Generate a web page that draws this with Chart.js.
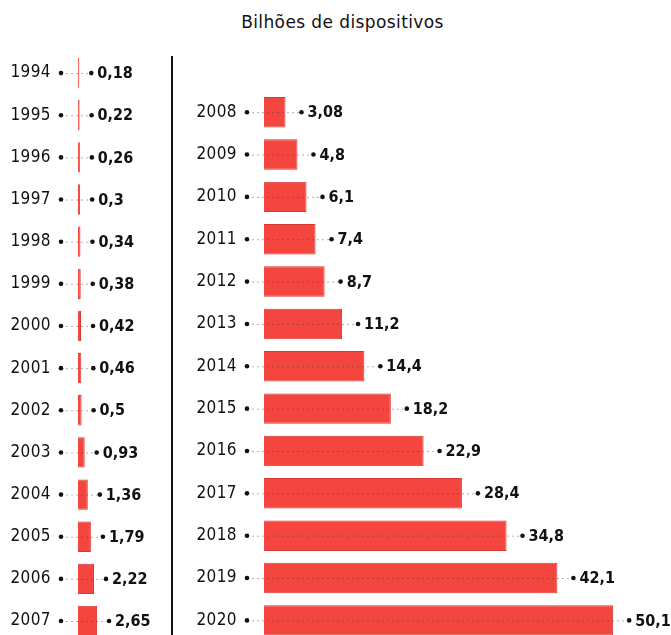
<!DOCTYPE html>
<html lang="pt">
<head>
<meta charset="utf-8">
<script src="https://cdn.jsdelivr.net/npm/chart.js@4/dist/chart.umd.min.js"></script>
<style>
  html, body { margin: 0; padding: 0; background: #fff; overflow: hidden; }
  body { position: relative; width: 671px; height: 635px; }
  #title { position: absolute; left: 0; top: 12px; width: 685px; text-align: center; letter-spacing: 0.4px;
           font: 17px "DejaVu Sans", Roboto, sans-serif; color: #111; }
  #sep { position: absolute; left: 171px; top: 56px; width: 2px; height: 590px; background: #111; }
  canvas { position: absolute; top: 0; }
  #leftChart { left: 0; }
  #rightChart { left: 174px; }
</style>
</head>
<body>
<div id="title">Bilhões de dispositivos</div>
<div id="sep"></div>
<canvas id="leftChart" width="172" height="650"></canvas>
<canvas id="rightChart" width="497" height="650"></canvas>
<script>
// anos e valores (bilhões de dispositivos)
var yearsA = ['1994', '1995', '1996', '1997', '1998', '1999', '2000', '2001', '2002', '2003', '2004', '2005', '2006', '2007'];
var valuesA = [0.18, 0.22, 0.26, 0.3, 0.34, 0.38, 0.42, 0.46, 0.5, 0.93, 1.36, 1.79, 2.22, 2.65];
var yearsB = ['2008', '2009', '2010', '2011', '2012', '2013', '2014', '2015', '2016', '2017', '2018', '2019', '2020'];
var valuesB = [3.08, 4.8, 6.1, 7.4, 8.7, 11.2, 14.4, 18.2, 22.9, 28.4, 34.8, 42.1, 50.1];

var FONT = '"Liberation Sans Narrow", "DejaVu Sans Condensed", Roboto, sans-serif';
var fmt = function(v) { return String(v).replace('.', ','); };

// pontos, linha pontilhada e rótulos de valor
var leaderPlugin = {
  id: 'leaders',
  beforeDraw: function(chart) { chart.ctx.letterSpacing = '0.4px'; },
  afterDatasetsDraw: function(chart, args, opts) {
    var ctx = chart.ctx, meta = chart.getDatasetMeta(0), data = chart.data.datasets[0].data;
    var left = chart.chartArea.left;
    ctx.save();
    ctx.letterSpacing = '0px';
    meta.data.forEach(function(bar, i) {
      var y = bar.y, x0 = left - 17, x1 = bar.x + opts.gap;
      ctx.strokeStyle = 'rgba(60,60,60,0.4)';
      ctx.lineWidth = 1;
      ctx.setLineDash([2, 3]);
      ctx.beginPath(); ctx.moveTo(x0, y + 0.5); ctx.lineTo(x1, y + 0.5); ctx.stroke();
      ctx.setLineDash([]);
      ctx.fillStyle = '#111';
      [x0, x1].forEach(function(x) { ctx.beginPath(); ctx.arc(x, y, 2.3, 0, Math.PI * 2); ctx.fill(); });
      ctx.font = 'bold 16px ' + FONT;
      ctx.textAlign = 'left';
      ctx.textBaseline = 'middle';
      ctx.fillText(fmt(data[i]), x1 + 6, y + 1);
    });
    ctx.restore();
  }
};

function makeChart(id, labels, values, axisWidth, xmax, padTop, rowH, gap) {
  return new Chart(document.getElementById(id), {
    type: 'bar',
    data: {
      labels: labels,
      datasets: [{ data: values, backgroundColor: '#f4463f', borderColor: '#d63a36', borderWidth: 1,
                   barPercentage: 0.72, categoryPercentage: 1 }]
    },
    options: {
      indexAxis: 'y',
      responsive: false,
      animation: false,
      layout: { padding: { top: padTop, bottom: 650 - padTop - labels.length * rowH, left: 0, right: 0 } },
      plugins: { legend: { display: false }, tooltip: { enabled: false }, leaders: { gap: gap } },
      scales: {
        x: { display: false, min: 0, max: xmax },
        y: {
          grid: { display: false, drawTicks: false },
          border: { display: false },
          ticks: { padding: 27, color: '#111', font: { family: FONT, size: 17 } },
          afterFit: function(scale) {
            scale.width = axisWidth;
            scale.paddingTop = 0;
            scale.paddingBottom = 0;
          }
        }
      }
    },
    plugins: [leaderPlugin]
  });
}

makeChart('leftChart', yearsA, valuesA, 78, 13.05, 52, 42.15, 12);
makeChart('rightChart', yearsB, valuesB, 90, 58.4, 91, 42.35, 16);
</script>
</body>
</html>
